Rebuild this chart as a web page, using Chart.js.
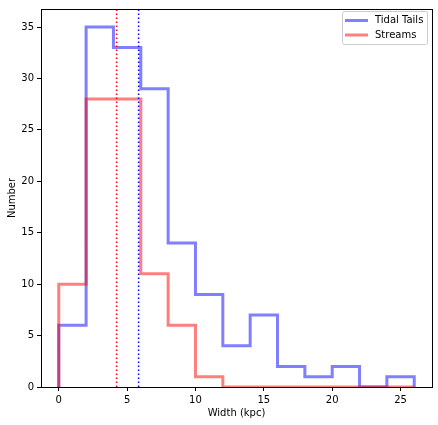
<!DOCTYPE html>
<html>
<head>
<meta charset="utf-8">
<script src="https://cdn.jsdelivr.net/npm/chart.js@4.4.1/dist/chart.umd.min.js"></script>
<style>
  html, body { margin: 0; padding: 0; background: #fff; }
  canvas { display: block; }
</style>
</head>
<body>
<canvas id="grafico" width="438" height="425"></canvas>
<script>
// bordas dos bins (kpc) e contagens por bin
const binEdges = [0, 2, 4, 6, 8, 10, 12, 14, 16, 18, 20, 22, 24, 26];
const tidalTailsCounts = [6, 35, 33, 29, 14, 9, 4, 7, 2, 1, 2, 0, 1];
const streamsCounts = [10, 28, 28, 11, 6, 1, 0, 0, 0, 0, 0, 0, 0];

// linhas pontilhadas verticais
const streamsMark = 4.23;
const tidalTailsMark = 5.84;

const xMin = -1.3, xMax = 27.3;
const yMin = 0, yMax = 36.75;

const azul = 'rgba(0, 0, 255, 0.5)';
const vermelho = 'rgba(255, 0, 0, 0.5)';
const fonte = 'DejaVu Sans';

// contorno tipo "step" do histograma
function contornoStep(edges, counts) {
  const pts = [{ x: edges[0], y: 0 }];
  counts.forEach((c, i) => {
    pts.push({ x: edges[i], y: c });
    pts.push({ x: edges[i + 1], y: c });
  });
  pts.push({ x: edges[edges.length - 1], y: 0 });
  return pts;
}

const molduraELegenda = {
  id: 'molduraELegenda',
  afterDraw(chart) {
    const { ctx, chartArea: a } = chart;
    ctx.save();
    // moldura
    ctx.strokeStyle = '#000';
    ctx.lineWidth = 1;
    const l = Math.round(a.left) + 0.5, r = Math.round(a.right) + 0.5;
    const t = Math.round(a.top) + 0.5, b = Math.round(a.bottom) + 0.5;
    ctx.strokeRect(l, t, r - l, b - t);

    // legenda
    const bx = 342, by = 11, bw = 85, bh = 33;
    ctx.fillStyle = 'rgba(255,255,255,0.8)';
    ctx.strokeStyle = '#cccccc';
    ctx.beginPath();
    ctx.roundRect(bx + 0.5, by + 0.5, bw, bh, 2);
    ctx.fill();
    ctx.stroke();

    const itens = [
      { texto: 'Tidal Tails', cor: azul, y: 20.5 },
      { texto: 'Streams', cor: vermelho, y: 35 }
    ];
    itens.forEach(it => {
      ctx.strokeStyle = it.cor;
      ctx.lineWidth = 3;
      ctx.beginPath();
      ctx.moveTo(345, it.y);
      ctx.lineTo(368, it.y);
      ctx.stroke();
      ctx.fillStyle = '#000';
      ctx.font = '10px ' + fonte;
      ctx.textBaseline = 'middle';
      ctx.textAlign = 'left';
      ctx.fillText(it.texto, 375, it.y);
    });
    ctx.restore();
  }
};

new Chart(document.getElementById('grafico'), {
  type: 'line',
  data: {
    datasets: [
      {
        label: 'Tidal Tails',
        data: contornoStep(binEdges, tidalTailsCounts),
        borderColor: azul, borderWidth: 3, pointRadius: 0, order: 3, clip: 0
      },
      {
        label: 'Streams',
        data: contornoStep(binEdges, streamsCounts),
        borderColor: vermelho, borderWidth: 3, pointRadius: 0, order: 2, clip: 0
      },
      {
        label: 'streamsMark',
        data: [{ x: streamsMark, y: yMin }, { x: streamsMark, y: yMax }],
        borderColor: 'red', borderWidth: 1.5, borderDash: [1.5, 2.5], pointRadius: 0, order: 1
      },
      {
        label: 'tidalTailsMark',
        data: [{ x: tidalTailsMark, y: yMin }, { x: tidalTailsMark, y: yMax }],
        borderColor: 'blue', borderWidth: 1.5, borderDash: [1.5, 2.5], pointRadius: 0, order: 0
      }
    ]
  },
  options: {
    responsive: false,
    animation: false,
    devicePixelRatio: 1,
    layout: { padding: { top: 6, right: 6, left: 0, bottom: 0 } },
    plugins: { legend: { display: false }, tooltip: { enabled: false } },
    scales: {
      x: {
        type: 'linear', min: xMin, max: xMax,
        afterFit: s => { s.height = 38; },
        border: { display: false },
        grid: { drawOnChartArea: false, drawTicks: true, tickLength: 4, color: '#000' },
        ticks: { stepSize: 5, includeBounds: false, padding: 3, color: '#000', maxRotation: 0,
                 font: { family: fonte, size: 10 } },
        title: { display: true, text: 'Width (kpc)', color: '#000', padding: { top: 0, bottom: 6 },
                 font: { family: fonte, size: 10 } }
      },
      y: {
        type: 'linear', min: yMin, max: yMax,
        afterFit: s => { s.width = 41; },
        border: { display: false },
        grid: { drawOnChartArea: false, drawTicks: true, tickLength: 4, color: '#000' },
        ticks: { stepSize: 5, includeBounds: false, padding: 3, color: '#000',
                 font: { family: fonte, size: 10 } },
        title: { display: true, text: 'Number', color: '#000', padding: { top: 6, bottom: 0 },
                 font: { family: fonte, size: 10 } }
      }
    }
  },
  plugins: [molduraELegenda]
});
</script>
</body>
</html>
